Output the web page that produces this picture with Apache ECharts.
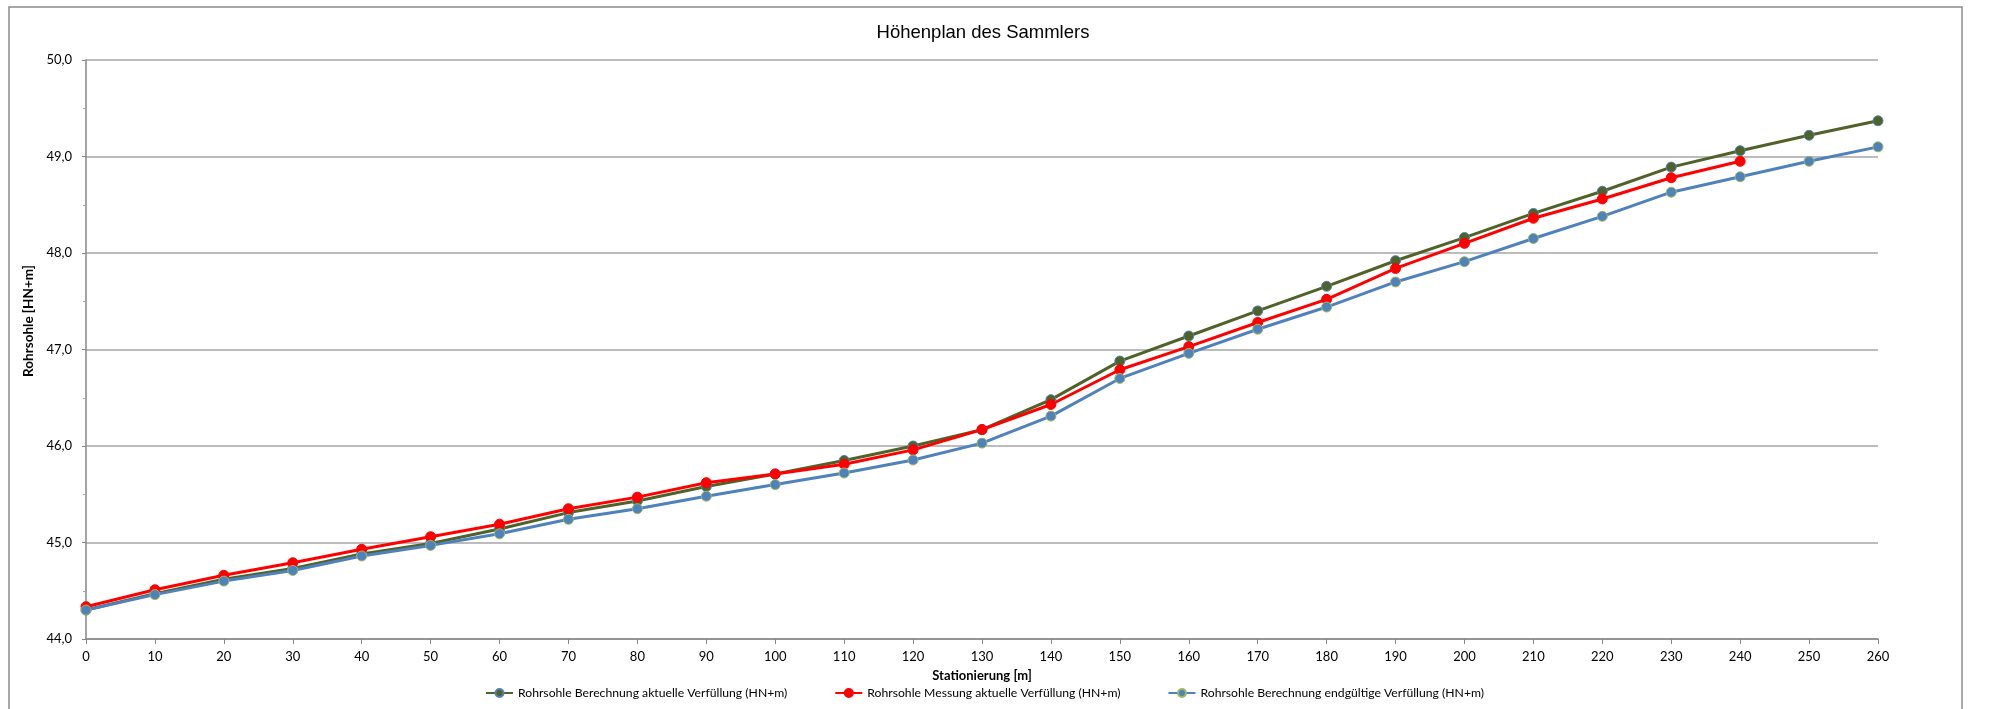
<!DOCTYPE html>
<html>
<head>
<meta charset="utf-8">
<script src="https://cdn.jsdelivr.net/npm/echarts@6/dist/echarts.min.js"></script>
<style>
html,body{margin:0;padding:0;background:#fff;}
#chart{width:1991px;height:709px;}
</style>
</head>
<body>
<div id="chart"></div>
<script>
const stations = [0,10,20,30,40,50,60,70,80,90,100,110,120,130,140,150,160,170,180,190,200,210,220,230,240,250,260];
const berechnungAktuell = [44.30,44.47,44.62,44.73,44.88,44.99,45.14,45.31,45.43,45.58,45.71,45.85,46.00,46.17,46.48,46.88,47.14,47.40,47.655,47.92,48.16,48.41,48.64,48.89,49.06,49.22,49.37];
const messungAktuell = [44.335,44.51,44.66,44.79,44.93,45.06,45.19,45.35,45.47,45.62,45.71,45.81,45.96,46.17,46.43,46.79,47.03,47.28,47.52,47.84,48.10,48.36,48.56,48.78,48.95];
const berechnungEndgueltig = [44.30,44.46,44.60,44.71,44.86,44.97,45.09,45.24,45.35,45.48,45.60,45.72,45.855,46.03,46.31,46.70,46.96,47.21,47.44,47.70,47.91,48.15,48.38,48.63,48.79,48.95,49.10];
const seriesNames = [
  'Rohrsohle Berechnung aktuelle Verfüllung (HN+m)',
  'Rohrsohle Messung aktuelle Verfüllung (HN+m)',
  'Rohrsohle Berechnung endgültige Verfüllung (HN+m)'
];
const titleText = 'Höhenplan des Sammlers';
const xName = 'Stationierung [m]';
const yName = 'Rohrsohle [HN+m]';

const pairs = (xs, ys) => ys.map((v, i) => [xs[i], v]);
const fontFam = 'Lato, "Liberation Sans", Arial, sans-serif';

const chart = echarts.init(document.getElementById('chart'), null, {renderer: 'canvas'});
chart.setOption({
  animation: false,
  backgroundColor: '#ffffff',
  graphic: [{
    type: 'rect', silent: true, z: -10,
    shape: {x: 9, y: 7, width: 1953, height: 720},
    style: {fill: 'none', stroke: '#8c8c8c', lineWidth: 1.5}
  }],
  title: {
    text: titleText, left: 978, top: 18, textAlign: 'center',
    textStyle: {fontFamily: '"Liberation Sans", Arial, sans-serif', fontSize: 18.5, fontWeight: 'normal', color: '#000'}
  },
  grid: {left: 86, right: 113, top: 60, bottom: 70, containLabel: false},
  legend: {
    top: 682, left: 480, itemWidth: 27, itemHeight: 10, itemGap: 47,
    textStyle: {fontFamily: fontFam, fontSize: 12.2, color: '#000'},
    data: seriesNames
  },
  xAxis: {
    type: 'value', min: 0, max: 260, interval: 10,
    name: xName, nameLocation: 'middle', nameGap: 30,
    nameTextStyle: {fontFamily: fontFam, fontSize: 13, fontWeight: 'bold', color: '#000'},
    axisLine: {show: true, lineStyle: {color: '#868686', width: 1.5}},
    axisTick: {show: true, length: 5, lineStyle: {color: '#868686'}},
    axisLabel: {fontFamily: fontFam, fontSize: 13, color: '#000', margin: 11},
    splitLine: {show: false}
  },
  yAxis: {
    type: 'value', min: 44, max: 50, interval: 1,
    name: yName, nameLocation: 'middle', nameGap: 49, nameRotate: 90,
    nameTextStyle: {fontFamily: fontFam, fontSize: 13.5, fontWeight: 'bold', color: '#000', padding: [0, 0, 0, 57]},
    axisLine: {show: true, lineStyle: {color: '#868686', width: 1.5}},
    axisTick: {show: true, length: 4, lineStyle: {color: '#868686'}},
    minorTick: {show: true, splitNumber: 2, length: 3, lineStyle: {color: '#a6a6a6'}},
    axisLabel: {fontFamily: fontFam, fontSize: 13, color: '#000', margin: 14,
      formatter: v => v.toFixed(1).replace('.', ',')},
    splitLine: {show: true, lineStyle: {color: '#a6a6a6', width: 1.5}}
  },
  series: [
    {
      name: seriesNames[0], type: 'line', data: pairs(stations, berechnungAktuell),
      symbol: 'circle', symbolSize: 10,
      lineStyle: {color: '#4f6228', width: 3},
      itemStyle: {color: '#4f6228', borderColor: '#4f81bd', borderWidth: 1}
    },
    {
      name: seriesNames[1], type: 'line', data: pairs(stations, messungAktuell),
      symbol: 'circle', symbolSize: 10,
      lineStyle: {color: '#ff0000', width: 3},
      itemStyle: {color: '#ff0000', borderColor: '#ff0000', borderWidth: 1}
    },
    {
      name: seriesNames[2], type: 'line', data: pairs(stations, berechnungEndgueltig),
      symbol: 'circle', symbolSize: 10,
      lineStyle: {color: '#4f81bd', width: 3},
      itemStyle: {color: '#4f81bd', borderColor: '#9bbb59', borderWidth: 1}
    }
  ]
});
</script>
</body>
</html>
